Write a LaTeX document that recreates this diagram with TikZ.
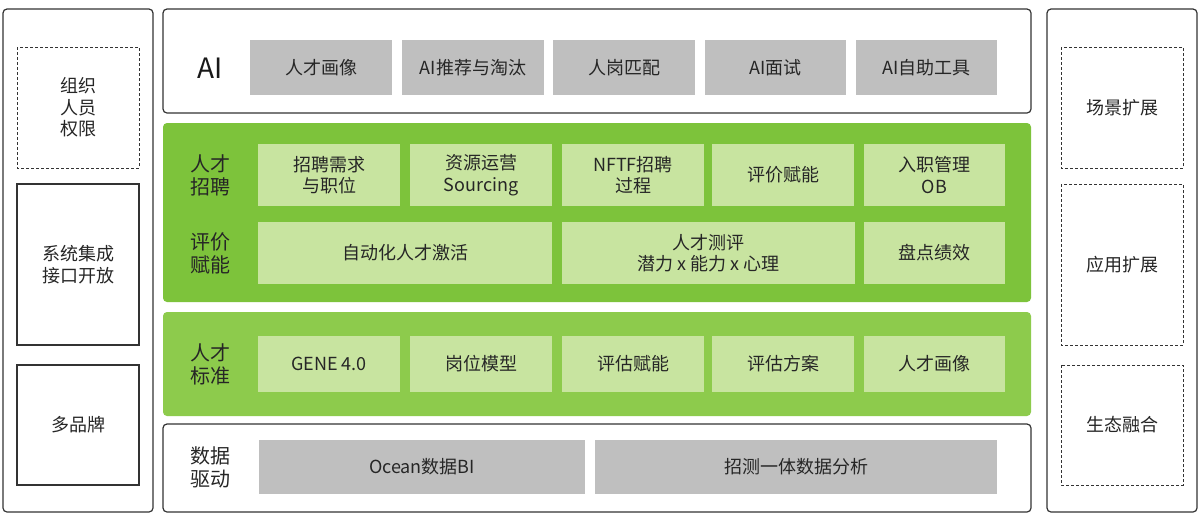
\documentclass[tikz,border=0pt]{standalone}
\usepackage{fontspec}
\setmainfont{Noto Sans CJK SC}
\begin{document}
\begin{tikzpicture}[x=1pt,y=-1pt,
  panel/.style={draw=black!80,line width=1.2pt,rounded corners=4pt,fill=white},
  dbox/.style={draw=black!80,line width=1pt,dashed,dash pattern=on 3pt off 2pt},
  sbox/.style={draw=black!80,line width=1.1pt},
  gray/.style={fill=black!25,draw=none},
  lgreen/.style={fill=lgr,draw=none},
  txt/.style={font=\fontsize{18}{21.5}\selectfont,text=black!85,align=center},
  lab/.style={font=\fontsize{20}{23}\selectfont,text=black!85,align=center}]
\definecolor{lgr}{HTML}{C8E4A0}
\definecolor{gA}{HTML}{7DC33B}
\definecolor{gB}{HTML}{8DCB4C}
\useasboundingbox (0,0) rectangle (1202,523);
\fill[white] (0,0) rectangle (1202,523);
% left panel
\draw[panel] (3,9) rectangle (153,512);
\draw[dbox] (17,47) rectangle (139,168);
\node[txt] (l1) at (78,107.5) {组织\\人员\\权限};
\draw[sbox] (17,184) rectangle (139,345);
\node[txt] (l2) at (78,264.5) {系统集成\\接口开放};
\draw[sbox] (17,365) rectangle (139,485);
\node[txt] (l3) at (78,425) {多品牌};
% right panel
\draw[panel] (1047,9) rectangle (1197,512);
\draw[dbox] (1061,47) rectangle (1183,168);
\node[txt] (r1) at (1122,107.5) {场景扩展};
\draw[dbox] (1061,184) rectangle (1183,345);
\node[txt] (r2) at (1122,264.5) {应用扩展};
\draw[dbox] (1061,365) rectangle (1183,485);
\node[txt] (r3) at (1122,425) {生态融合};
% AI layer
\draw[panel] (163,9) rectangle (1031,113);
\node[font=\fontsize{28}{30}\selectfont,text=black!90] (ai) at (210,68) {AI};
\fill[gray] (250,40) rectangle (392,95); \node[txt] (a1) at (321,67.5) {人才画像};
\fill[gray] (402,40) rectangle (544,95); \node[txt] (a2) at (473,67.5) {AI推荐与淘汰};
\fill[gray] (553,40) rectangle (695,95); \node[txt] (a3) at (624,67.5) {人岗匹配};
\fill[gray] (705,40) rectangle (846,95); \node[txt] (a4) at (775.5,67.5) {AI面试};
\fill[gray] (856,40) rectangle (997,95); \node[txt] (a5) at (926.5,67.5) {AI自助工具};
% green band 1
\fill[gA,rounded corners=4pt] (163,123) rectangle (1031,302);
\node[lab] (g1) at (210,175) {人才\\招聘};
\node[lab] (g2) at (210,253) {评价\\赋能};
\fill[lgreen] (258,144) rectangle (400,206); \node[txt] (b1) at (329,175) {招聘需求\\与职位};
\fill[lgreen] (410,144) rectangle (552,206); \node[txt] (b2) at (481,175) {资源运营\\Sourcing};
\fill[lgreen] (562,144) rectangle (704,206); \node[txt] (b3) at (633,175) {NFTF招聘\\过程};
\fill[lgreen] (712,144) rectangle (854,206); \node[txt] (b4) at (783,175) {评价赋能};
\fill[lgreen] (864,144) rectangle (1005,206); \node[txt] (b5) at (934.5,175) {入职管理\\OB};
\fill[lgreen] (258,222) rectangle (552,284); \node[txt] (c1) at (405,253) {自动化人才激活};
\fill[lgreen] (562,222) rectangle (855,284); \node[txt] (c2) at (708.5,253) {人才测评\\潜力 x 能力 x 心理};
\fill[lgreen] (864,222) rectangle (1005,284); \node[txt] (c3) at (934.5,253) {盘点绩效};
% green band 2
\fill[gB,rounded corners=4pt] (163,312) rectangle (1031,416);
\node[lab] (g3) at (210,364) {人才\\标准};
\fill[lgreen] (258,336) rectangle (400,392); \node[txt] (d1) at (329,364) {GENE 4.0};
\fill[lgreen] (410,336) rectangle (552,392); \node[txt] (d2) at (481,364) {岗位模型};
\fill[lgreen] (562,336) rectangle (704,392); \node[txt] (d3) at (633,364) {评估赋能};
\fill[lgreen] (712,336) rectangle (854,392); \node[txt] (d4) at (783,364) {评估方案};
\fill[lgreen] (864,336) rectangle (1005,392); \node[txt] (d5) at (934.5,364) {人才画像};
% data layer
\draw[panel] (163,424) rectangle (1031,512);
\node[lab] (g4) at (210,467) {数据\\驱动};
\fill[gray] (259,440) rectangle (585,494); \node[txt] (e1) at (422,467) {Ocean数据BI};
\fill[gray] (595,440) rectangle (997,494); \node[txt] (e2) at (796,467) {招测一体数据分析};
\end{tikzpicture}
\end{document}
